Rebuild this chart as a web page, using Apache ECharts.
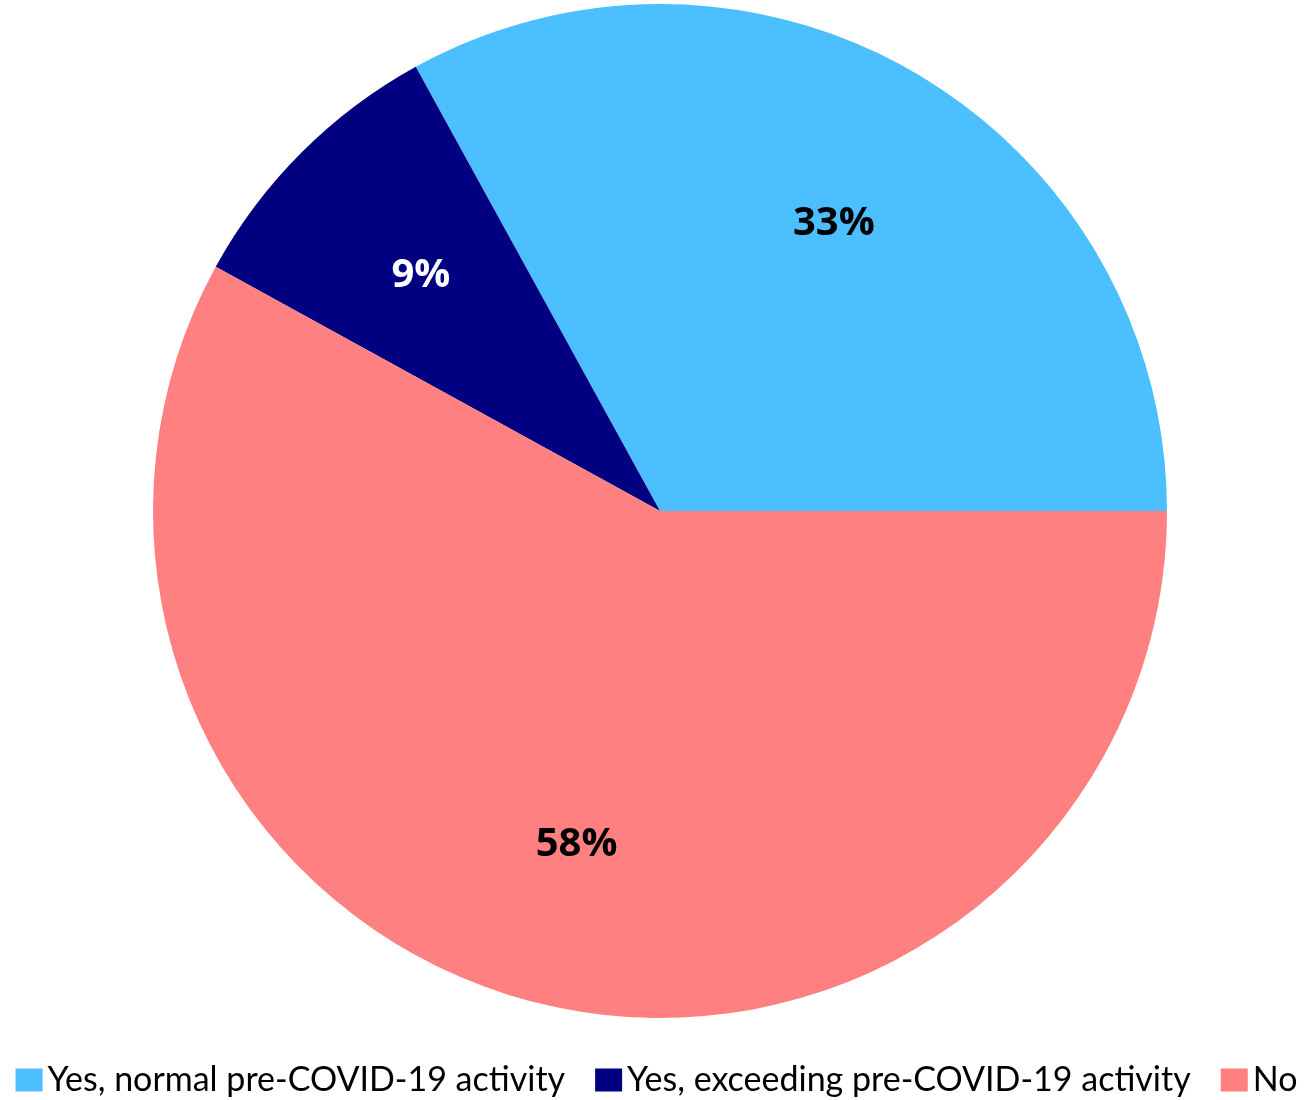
<!DOCTYPE html>
<html>
<head>
<meta charset="utf-8">
<script src="https://cdn.jsdelivr.net/npm/echarts@6/dist/echarts.min.js"></script>
<style>html,body{margin:0;padding:0;background:#fff}#c{width:1313px;height:1100px}</style>
</head>
<body>
<div id="c"></div>
<script>
const categories = ["Yes, normal pre-COVID-19 activity", "Yes, exceeding pre-COVID-19 activity", "No"];
const values = [33, 9, 58];
const colors = ["#4BBFFF", "#000080", "#FF8080"];
const labelColors = ["#000000", "#ffffff", "#000000"];

const chart = echarts.init(document.getElementById('c'), null, {renderer: 'canvas'});
const base = categories.map((n, i) => ({name: n, value: values[i], itemStyle: {color: colors[i]}}));
const overlay = categories.map((n, i) => ({name: n, value: values[i],
  itemStyle: {color: 'rgba(0,0,0,0)'},
  label: {color: labelColors[i]}}));
chart.setOption({
  animation: false,
  legend: {
    top: 1063, left: 'center', padding: 0,
    icon: 'rect',
    itemWidth: 27, itemHeight: 23, itemGap: 30,
    textStyle: {fontFamily: 'Lato', fontSize: 34, color: '#000', padding: [0, 0, 0, 0]},
    data: categories.map((n, i) => ({name: n, itemStyle: {color: colors[i]}}))
  },
  series: [{
    type: 'pie', center: [660, 511], radius: [0, 507],
    startAngle: 0, clockwise: false,
    label: {show: false}, labelLine: {show: false},
    emphasis: {disabled: true},
    data: base
  }, {
    type: 'pie', center: [660, 511], radius: [166, 507],
    startAngle: 0, clockwise: false, silent: true,
    label: {show: true, position: 'inside', formatter: '{d}%', fontFamily: 'Open Sans', fontWeight: 'bold', fontSize: 40, offset: [1, 5]},
    labelLine: {show: false},
    emphasis: {disabled: true},
    data: overlay
  }]
});
</script>
</body>
</html>
